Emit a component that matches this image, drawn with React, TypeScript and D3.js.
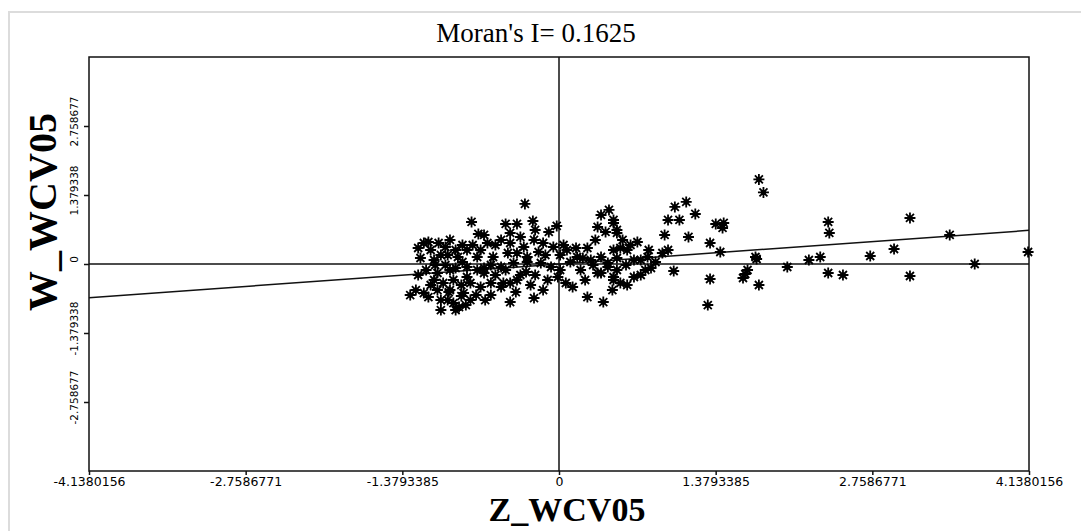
import React, { useEffect } from 'react';
import * as d3 from 'd3';

// standardized value (x) and spatial lag (y)
const zValues = [
  1.76, 1.80, 3.09, 2.37, 2.38, 3.44, 2.95, 4.13, 2.74, 2.50, 3.09, 3.66,
  1.12, 1.02, 0.96, 1.06, 1.20, 0.93, 1.14, 1.38, 1.45, 1.44, 1.33, 1.42,
  1.73, 1.74, 2.20, 2.30, 2.01, 2.37, 1.66, 1.62, 1.64, 1.76, 1.33, 1.01,
  1.31, 0.39, 0.48, 0.44, 0.51, 0.69, 0.54, 0.60, 0.48, 0.79, 0.78, 0.72,
  0.43, 0.66, 0.51, 0.66, 0.48, 0.60, 0.76, 0.37, 0.96, 0.91, 0.37, 0.34,
  0.48, 0.51, -0.30, -0.77, -0.71, -0.47, -0.37, -0.23, -0.21, -0.02, -1.19, -1.06,
  -0.96, -0.85, -1.22, -1.10, -0.98, -0.89, -0.72, -0.63, -0.51, -0.43, -0.31, -0.22,
  -0.14, -0.05, 0.07, 0.16, 0.25, 0.28, -1.07, -0.96, -0.81, -0.66, -0.51, -0.40,
  -0.28, -0.16, -0.07, 0.01, -1.31, -1.19, -1.07, -0.96, -0.84, -0.78, -0.93, -0.88,
  -0.98, -1.10, -1.02, -0.93, -0.69, -0.60, -0.51, -0.43, -0.37, -0.25, -0.43, -0.22,
  0.12, 0.25, -0.01, -0.10, -0.72, -0.66, -0.81, -0.78, 0.37, 0.43, 0.48, 0.34,
  -0.81, -0.58, -0.45, -0.37, -0.28, -1.26, -1.15, -1.04, -1.17, -1.13, -1.00, -0.86,
  -0.73, -0.60, -0.56, -0.47, -0.34, -0.21, -0.12, 0.01, 0.10, 0.19, -0.34, -0.56,
  -0.69, -0.91, -1.04, -0.86, -0.65, -0.14, 0.06, 0.23, 0.59, 0.85, 0.72, 0.32,
  0.56, 0.41, -1.24, -1.15, -1.00, -0.91, -1.24, -1.13, -0.97, -0.91, -0.82, -1.04,
  -1.09, -0.85, -0.76, -0.60, -0.49, -0.38, -0.29, -0.18, -0.09, 0.04, 0.15, 0.21,
  0.30, 0.51, 0.63, 0.81, 0.47, 0.54, -0.66, -0.43,
];

const wValues = [
  1.69, 1.43, 0.92, 0.84, 0.62, 0.58, 0.30, 0.24, 0.16, -0.22, -0.24, 0.00,
  1.24, 1.14, 0.88, 0.88, 1.00, 0.58, 0.54, 0.80, 0.82, 0.72, 0.42, 0.24,
  0.14, 0.10, 0.08, 0.14, -0.06, -0.18, -0.12, -0.28, -0.20, -0.42, -0.30, -0.14,
  -0.82, -0.76, 0.88, 1.08, 0.68, 0.44, 0.32, 0.28, 0.28, 0.28, 0.14, 0.08,
  0.02, 0.08, -0.12, -0.26, -0.32, -0.42, -0.12, -0.18, 0.28, 0.22, 0.98, 0.74,
  0.82, 0.62, 1.20, 0.84, 0.60, 0.80, 0.80, 0.86, 0.68, 0.76, 0.42, 0.42,
  0.48, 0.38, 0.12, 0.08, 0.18, 0.14, 0.14, 0.42, 0.48, 0.42, 0.34, 0.48,
  0.42, 0.34, 0.28, 0.14, 0.32, 0.08, -0.18, -0.12, -0.06, -0.08, -0.06, 0.02,
  0.04, 0.02, -0.06, -0.12, -0.62, -0.58, -0.52, -0.52, -0.58, -0.72, -0.78, -0.86,
  -0.72, -0.32, -0.38, -0.32, -0.46, -0.38, -0.46, -0.38, -0.32, -0.42, -0.76, -0.68,
  -0.46, -0.66, -0.26, -0.32, -0.12, -0.18, -0.26, -0.38, 0.14, -0.06, -0.26, -0.18,
  0.28, 0.14, 0.22, 0.22, 0.14, -0.52, -0.66, -0.72, -0.12, 0.28, -0.02, -0.42,
  -0.62, -0.62, -0.22, -0.12, -0.22, -0.22, 0.18, 0.18, 0.04, -0.12, 0.54, 0.38,
  0.28, -0.08, 0.18, -0.64, -0.72, -0.52, -0.38, -0.32, -0.02, 0.04, -0.22, 0.48,
  0.48, 0.64, 0.32, 0.44, 0.34, 0.28, -0.22, -0.42, -0.56, -0.92, -0.82, -0.92,
  -0.02, 0.04, 0.38, -0.02, -0.38, -0.56, -0.16, 0.24, 0.64, 0.38, 0.32, 0.12,
  -0.02, 0.12, 0.38, -0.08, -0.52, -0.38, 0.58, 0.62,
];

const moransI = 0.1625;
const axisLimit = 4.1380156;

const xTicks = [-4.1380156, -2.7586771, -1.3793385, 0, 1.3793385, 2.7586771, 4.1380156];
const xTickLabels = ['-4.1380156', '-2.7586771', '-1.3793385', '0', '1.3793385', '2.7586771', '4.1380156'];
const yTicks = [-2.7586771, -1.3793385, 0, 1.3793385, 2.7586771];
const yTickLabels = ['-2.758677', '-1.379338', '0', '1.379338', '2.758677'];

const App: React.FC = () => {
  const width = 1081;
  const height = 531;
  const plot = { left: 89, right: 1029, top: 57, bottom: 471 };

  useEffect(() => {
    document.body.style.margin = '0';
    draw();
  // eslint-disable-next-line react-hooks/exhaustive-deps
  }, []);

  function draw() {
    d3.select('#moran-chart').select('svg').remove();

    const x = d3.scaleLinear().domain([-axisLimit, axisLimit]).range([plot.left, plot.right]);
    const y = d3.scaleLinear().domain([-axisLimit, axisLimit]).range([plot.bottom, plot.top]);

    const svg = d3.select('#moran-chart')
      .append('svg')
      .attr('width', width)
      .attr('height', height)
      .style('display', 'block')
      .style('background', '#fff');

    // faint panel edge
    svg.append('path')
      .attr('d', `M9,${height} V12 H${width}`)
      .attr('fill', 'none')
      .attr('stroke', '#dcdcdc')
      .attr('stroke-width', 2);

    svg.append('text')
      .attr('x', 536)
      .attr('y', 42)
      .attr('text-anchor', 'middle')
      .style('font-family', '"Liberation Serif", "Times New Roman", serif')
      .style('font-size', '27px')
      .text(`Moran's I= ${moransI}`);

    // frame
    svg.append('rect')
      .attr('x', plot.left)
      .attr('y', plot.top)
      .attr('width', plot.right - plot.left)
      .attr('height', plot.bottom - plot.top)
      .attr('fill', 'none')
      .attr('stroke', '#111')
      .attr('stroke-width', 1.5);

    const xAxis = (g: any) => g
      .attr('transform', `translate(0, ${plot.bottom})`)
      .call(d3.axisBottom(x).tickValues(xTicks).tickSize(4).tickSizeOuter(0)
        .tickFormat((d, i) => xTickLabels[i]))
      .call(() => g.select('.domain').remove());

    const yAxis = (g: any) => g
      .attr('transform', `translate(${plot.left}, 0)`)
      .call(d3.axisLeft(y).tickValues(yTicks).tickSize(5).tickSizeOuter(0)
        .tickFormat((d, i) => yTickLabels[i]))
      .call(() => g.select('.domain').remove());

    const gx = svg.append('g').attr('class', 'xAxis').call(xAxis);
    gx.selectAll('.tick line').attr('stroke', '#111').attr('stroke-width', 1.5);
    gx.selectAll('.tick text')
      .attr('y', 6)
      .attr('fill', '#000')
      .style('font-family', '"DejaVu Sans", sans-serif')
      .style('font-size', '12.5px');

    const gy = svg.append('g').attr('class', 'yAxis').call(yAxis);
    gy.selectAll('.tick line').attr('stroke', '#111').attr('stroke-width', 1.5);
    gy.selectAll('.tick text')
      .attr('x', null)
      .attr('dy', null)
      .attr('text-anchor', 'middle')
      .attr('transform', 'translate(-11, -5) rotate(-90)')
      .attr('fill', '#000')
      .style('font-family', '"DejaVu Sans", sans-serif')
      .style('font-size', '10.5px');

    // quadrant lines
    svg.append('line')
      .attr('x1', x(0)).attr('x2', x(0))
      .attr('y1', plot.top).attr('y2', plot.bottom)
      .attr('stroke', '#111').attr('stroke-width', 1.5);
    svg.append('line')
      .attr('x1', plot.left).attr('x2', plot.right)
      .attr('y1', y(0)).attr('y2', y(0))
      .attr('stroke', '#111').attr('stroke-width', 1.5);

    // regression line, slope = Moran's I
    svg.append('line')
      .attr('x1', x(-axisLimit)).attr('y1', y(-axisLimit * moransI))
      .attr('x2', x(axisLimit)).attr('y2', y(axisLimit * moransI))
      .attr('stroke', '#111').attr('stroke-width', 1.5);

    const star = 'M-5.5,0H5.5M0,-5.5V5.5M-4,-4L4,4M-4,4L4,-4';
    const pts = zValues.map((z, i) => ({ z, w: wValues[i] }));
    const marks = svg.append('g')
      .selectAll('.pt')
      .data(pts)
      .enter()
      .append('g')
      .attr('class', 'pt')
      .attr('transform', (d) => `translate(${x(d.z)}, ${y(d.w)})`);
    marks.append('path')
      .attr('d', star)
      .attr('stroke', '#000')
      .attr('stroke-width', 1.8);
    marks.append('circle')
      .attr('r', 2.6)
      .attr('fill', '#000');

    svg.append('text')
      .attr('x', 567)
      .attr('y', 521)
      .attr('text-anchor', 'middle')
      .style('font-family', '"Liberation Serif", "Times New Roman", serif')
      .style('font-weight', 'bold')
      .style('font-size', '34px')
      .text('Z_WCV05');

    svg.append('text')
      .attr('transform', 'translate(56, 212) rotate(-90)')
      .attr('text-anchor', 'middle')
      .style('font-family', '"Liberation Serif", "Times New Roman", serif')
      .style('font-weight', 'bold')
      .style('font-size', '40px')
      .text('W_WCV05');
  }

  return (
    <div id="moran-chart" />
  );
};

export default App;
